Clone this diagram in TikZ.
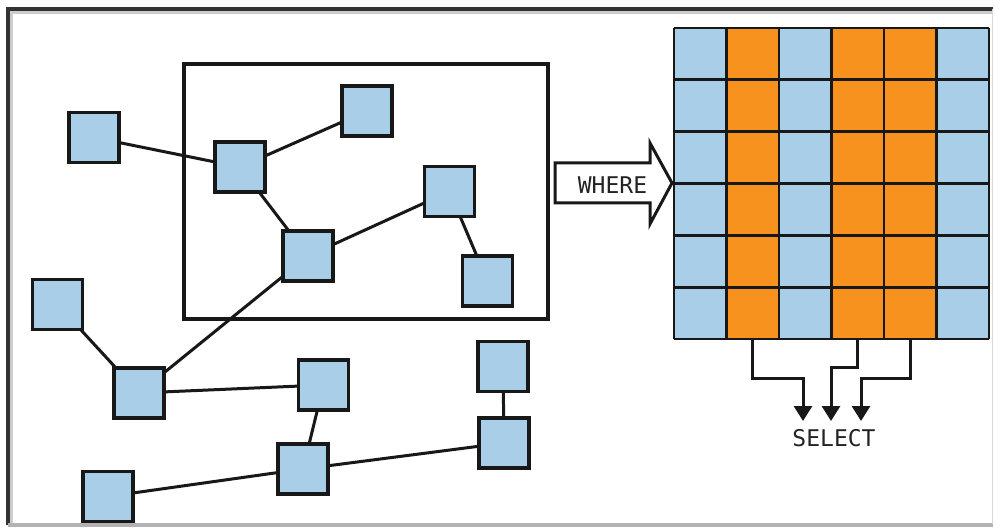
\documentclass[tikz,border=0pt]{standalone}
\usepackage{fontspec}
\newfontfamily\labelfont{DejaVu Sans Mono}
\usetikzlibrary{arrows.meta}
\definecolor{cellblue}{RGB}{169,206,232}
\definecolor{cellorange}{RGB}{247,146,30}
\definecolor{ink}{RGB}{24,24,24}
\definecolor{textgray}{RGB}{35,35,35}
\tikzset{
  rec/.style={draw=ink, fill=cellblue, line width=3.2pt, minimum size=50pt,
              inner sep=0pt, outer sep=0pt},
  link/.style={draw=ink, line width=3pt},
  gridline/.style={draw=ink, line width=2.8pt},
  selarrow/.style={draw=ink, line width=3pt,
                   -{Triangle[width=18pt,length=15pt]}},
  caption/.style={text=textgray, font=\labelfont\fontsize{23}{26}\selectfont,
                  inner sep=0pt},
}
\begin{document}
\begin{tikzpicture}[x=1pt,y=-1pt]
  \useasboundingbox (0,0) rectangle (995,529);
  \fill[white] (0,0) rectangle (995,529);

  % photo frame with a soft inner shadow
  \draw[line width=3pt, black!20] (11,524) -- (11,13) -- (993,13);
  \draw[line width=3.5pt, black!80] (8,525) -- (8,9) -- (993,9);
  \draw[line width=4pt, black!30] (8,524.5) -- (993,524.5);
  \draw[line width=1pt, black!15] (992,9) -- (992,524);

  % query region
  \draw[line width=3.2pt, ink] (184,64) rectangle (548,319);

  % records
  \node[rec] (a) at (94,137.5) {};
  \node[rec] (b) at (240,167) {};
  \node[rec] (c) at (367,111) {};
  \node[rec] (d) at (308,256) {};
  \node[rec] (e) at (449.5,191.5) {};
  \node[rec] (f) at (487.5,281) {};
  \node[rec] (h) at (57.5,304.5) {};
  \node[rec] (g) at (139,393) {};
  \node[rec] (i) at (323.5,385) {};
  \node[rec] (j) at (303,469) {};
  \node[rec] (k) at (108,496.5) {};
  \node[rec] (l) at (503,366.5) {};
  \node[rec] (m) at (504,443) {};

  % relations
  \draw[link] (a) -- (b);
  \draw[link] (b) -- (c);
  \draw[link] (b) -- (d);
  \draw[link] (d) -- (e);
  \draw[link] (e) -- (f);
  \draw[link] (d) -- (g);
  \draw[link] (h) -- (g);
  \draw[link] (g) -- (i);
  \draw[link] (i) -- (j);
  \draw[link] (j) -- (k);
  \draw[link] (j) -- (m);
  \draw[link] (l) -- (m);

  % WHERE arrow
  \draw[line width=3pt, ink, fill=white, line join=miter]
    (555,163) -- (650,163) -- (650,143) -- (672,183) -- (650,224)
    -- (650,203) -- (555,203) -- cycle;
  \node[caption] (where) at (612.5,185) {WHERE};

  % table: columns of cells
  \foreach \c/\col in {0/cellblue,1/cellorange,2/cellblue,3/cellorange,4/cellorange,5/cellblue}
    \fill[\col] ({674+\c*52.5},28) rectangle ++(52.5,311);
  \foreach \c in {0,...,6}
    \draw[gridline] ({674+\c*52.5},28) -- ++(0,311);
  \foreach \r in {0,...,6}
    \draw[gridline] (674,{28+\r*51.83}) -- ++(315,0);

  % SELECT projection
  \coordinate (s1) at (752.75,339);
  \coordinate (s2) at (857.75,339);
  \coordinate (s3) at (910.25,339);
  \coordinate (t1) at (803,421);
  \coordinate (t2) at (831,421);
  \coordinate (t3) at (861,421);
  \draw[selarrow] (s1) -- ++(0,39) -| (t1);
  \draw[selarrow] (s2) -- ++(0,28) -| (t2);
  \draw[selarrow] (s3) -- ++(0,39) -| (t3);
  \node[caption] (select) at (834,438.5) {SELECT};
\end{tikzpicture}
\end{document}
